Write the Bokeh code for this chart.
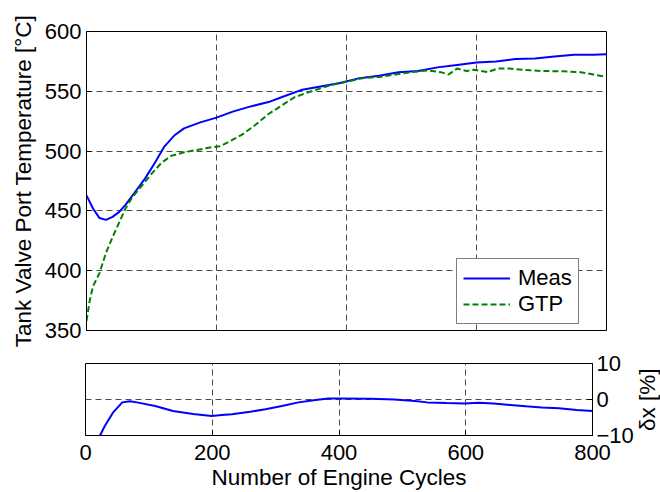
from bokeh.plotting import figure
from bokeh.layouts import row
from bokeh.models import FixedTicker, Range1d, Legend, LegendItem, Div
from bokeh.embed import file_html
from bokeh.resources import INLINE

FONT = "Liberation Sans"

# Measured tank valve port temperature
meas_x = [0, 10, 20, 30, 40, 50, 60, 75, 90, 105, 120, 135, 150, 175, 200, 225, 250, 280, 300,
          330, 360, 390, 420, 450, 480, 510, 540, 570, 600, 630, 660, 690, 720, 750, 780, 800]
meas_y = [463, 452, 444, 442.5, 445, 449, 455, 466, 477, 490, 504, 513, 519, 524, 528, 533, 537,
          541, 545, 551, 554, 557, 561, 563, 566, 567, 570, 572, 574, 575, 577, 577.5, 579, 580.5,
          580.5, 581]

# GTP model prediction
gtp_x = [0, 5, 10, 20, 30, 40, 50, 60, 70, 85, 100, 115, 130, 150, 170, 190, 205, 220, 240, 260,
         280, 300, 320, 340, 375, 400, 425, 450, 475, 500, 525, 545, 557, 570, 585, 595, 617, 632,
         650, 683, 700, 734, 760, 780, 800]
gtp_y = [358, 375, 387, 398, 415, 428, 440, 452, 461, 471, 481, 490, 496, 499, 501, 503, 504, 508,
         514, 522, 531, 538, 545, 549, 555, 558, 561, 562, 564, 566, 567.5, 566, 564, 569, 567, 568,
         566, 569, 569, 567.5, 567, 566.7, 566, 564, 562]

# Relative error [%]
dx_x = [0, 10, 23, 30, 44, 58, 70, 81, 110, 138, 170, 199, 215, 231, 260, 284, 310, 336, 360, 383,
        400, 450, 487, 520, 539, 570, 598, 620, 644, 670, 695, 720, 747, 775, 800]
dx_y = [-23, -18, -10, -7.5, -3.5, -0.8, -0.5, -0.8, -1.8, -3.2, -4.0, -4.6, -4.3, -4.1, -3.4,
        -2.7, -1.8, -0.8, -0.2, 0.3, 0.3, 0.2, 0.0, -0.4, -0.8, -1.0, -1.1, -0.9, -1.1, -1.5, -1.9,
        -2.2, -2.4, -2.9, -3.2]

x_ticks = [0, 200, 400, 600, 800]
t_ticks = [350, 400, 450, 500, 550, 600]
d_ticks = [-10, 0, 10]

GRID_COLOR = "#4a4a4a"
GRID_DASH = "6 4"
TICK_SIZE = "22px"
LABEL_SIZE = "22.5px"


def style_axis(ax):
    ax.major_tick_in = 5
    ax.major_tick_out = 0
    ax.minor_tick_in = 0
    ax.minor_tick_out = 0
    ax.axis_line_color = "black"
    ax.major_tick_line_color = "black"
    ax.major_label_text_font = FONT
    ax.major_label_text_font_size = TICK_SIZE
    ax.major_label_text_color = "black"
    ax.major_label_standoff = 5
    ax.axis_label_text_font = FONT
    ax.axis_label_text_font_size = LABEL_SIZE
    ax.axis_label_text_font_style = "normal"
    ax.axis_label_text_color = "black"


def style_grid(p, xt, yt):
    for g in (p.xgrid, p.ygrid):
        g.grid_line_color = GRID_COLOR
        g.grid_line_dash = GRID_DASH
        g.grid_line_width = 1
    p.xgrid.ticker = FixedTicker(ticks=xt)
    p.ygrid.ticker = FixedTicker(ticks=yt)


# ---------------- top panel ----------------
top = figure(width=652, height=352, x_range=Range1d(0, 800), y_range=Range1d(350, 600),
             output_backend="svg", toolbar_location=None,
             min_border_left=86, min_border_right=46, min_border_top=31, min_border_bottom=22)
top.outline_line_color = "black"
top.outline_line_width = 1
top.xaxis.visible = False
top.yaxis.ticker = FixedTicker(ticks=t_ticks)
style_axis(top.yaxis[0])
top.yaxis.axis_label = "Tank Valve Port Temperature [°C]"
top.yaxis.axis_label_standoff = 6
style_grid(top, [200, 400, 600], [400, 450, 500, 550])

r_meas = top.line(meas_x, meas_y, line_color="#0000ff", line_width=2)
r_gtp = top.line(gtp_x, gtp_y, line_color="#008000", line_width=2, line_dash="6 3")

legend = Legend(items=[LegendItem(label="Meas", renderers=[r_meas]),
                       LegendItem(label="GTP", renderers=[r_gtp])],
                location=(370, 6))
legend.border_line_color = "black"
legend.border_line_width = 1
legend.background_fill_color = "white"
legend.background_fill_alpha = 1
legend.label_text_font = FONT
legend.label_text_font_size = "22px"
legend.label_text_color = "black"
legend.glyph_width = 47
legend.glyph_height = 26
legend.label_height = 26
legend.label_standoff = 8
legend.padding = 6
legend.spacing = 0
legend.margin = 0
top.add_layout(legend)

# ---------------- bottom panel ----------------
bot = figure(width=636, height=140, x_range=Range1d(0, 800), y_range=Range1d(-10, 10),
             y_axis_location="right", output_backend="svg", toolbar_location=None,
             min_border_left=85, min_border_right=39, min_border_top=11, min_border_bottom=55)
bot.outline_line_color = "black"
bot.outline_line_width = 1
bot.xaxis.ticker = FixedTicker(ticks=x_ticks)
bot.yaxis.ticker = FixedTicker(ticks=d_ticks)
style_axis(bot.xaxis[0])
style_axis(bot.yaxis[0])
bot.yaxis.major_label_standoff = 4
bot.xaxis.axis_label = "Number of Engine Cycles"
bot.xaxis.axis_label_standoff = 2
bot.xaxis.major_label_standoff = 9
style_grid(bot, [200, 400, 600], [0])

bot.line(dx_x, dx_y, line_color="#0000ff", line_width=2)

# right-hand label of the error panel, reading bottom-to-top
dx_label = Div(
    text=("<div style=\"writing-mode: vertical-rl; transform: rotate(180deg); width: 24px; "
          "height: 74px; margin-top: 11px; text-align: center; line-height: 24px; "
          "font-family: 'Liberation Sans'; font-size: 22.5px; color: black; "
          "white-space: nowrap;\">δx [%]</div>"),
    width=24, height=140, margin=0)

with open("out.html", "w") as f:
    f.write(file_html([top, row(bot, dx_label, spacing=0)], INLINE))
